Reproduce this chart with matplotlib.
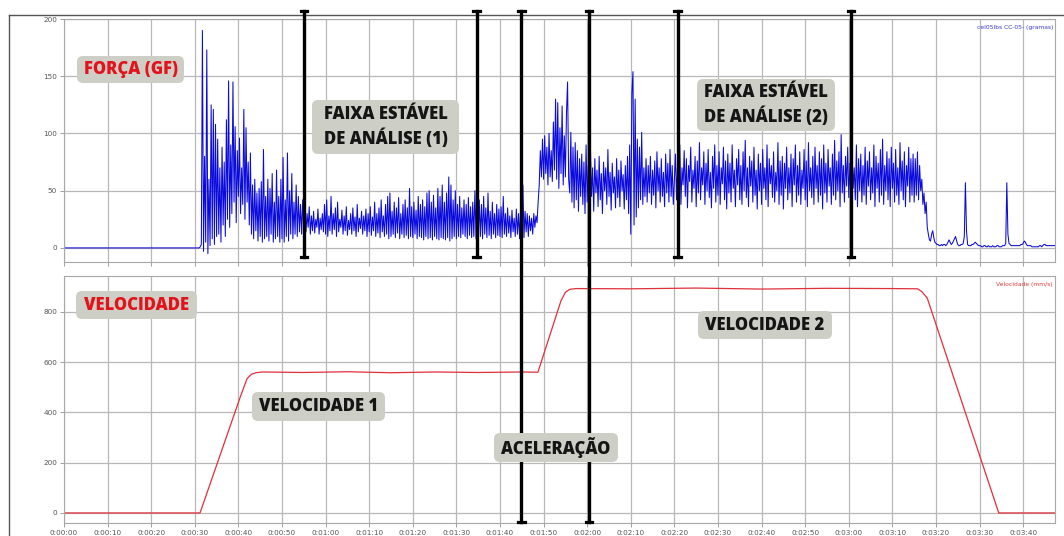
import numpy as np
import matplotlib
matplotlib.use('Agg')
import matplotlib.pyplot as plt
from matplotlib.patches import FancyBboxPatch
from matplotlib.lines import Line2D
import matplotlib.transforms as mtransforms

# ---------------- data ----------------
force_dt = 0.25
force_00 = [0, 0, 0, 0, 0, 0, 0, 0]  # 28.0 .. 29.75
force_30 = [0, 0, 0, 0, 0, 1, 3, 190, -3, 80,
            5, 173, -5, 60, 2, 125, 8, 121, 3, 108,
            10, 95, 12, 70, 5, 88, 20, 75, 10, 112,
            25, 146, 18, 90, 30, 145, 40, 106, 22, 85]
force_40 = [45, 96, 30, 70, 38, 121, 25, 105, 40, 75,
            20, 83, 12, 55, 8, 60, 15, 48, 6, 52,
            10, 58, 5, 86, 8, 45, 10, 60, 6, 52,
            12, 65, 5, 40, 8, 68, 10, 45, 5, 60]
force_50 = [8, 79, 5, 42, 10, 83, 6, 50, 12, 65,
            8, 40, 12, 55, 10, 45, 14, 38, 12, 42,
            15, 35, 14, 30, 18, 36, 12, 28, 15, 32,
            13, 25, 18, 34, 12, 26, 16, 30, 14, 38]
force_60 = [12, 42, 10, 28, 15, 45, 12, 30, 16, 35,
            10, 40, 14, 25, 18, 33, 12, 28, 15, 36,
            11, 24, 16, 30, 12, 35, 15, 27, 10, 38,
            14, 26, 17, 32, 12, 28, 15, 34, 10, 30]
force_70 = [14, 36, 11, 27, 15, 40, 10, 30, 13, 35,
            9, 42, 14, 28, 10, 38, 12, 45, 8, 48,
            10, 32, 12, 40, 9, 35, 13, 44, 8, 30,
            12, 38, 9, 42, 11, 35, 8, 52, 10, 36]
force_80 = [9, 40, 12, 33, 8, 45, 10, 38, 9, 42,
            7, 36, 10, 48, 8, 50, 9, 40, 7, 46,
            10, 35, 8, 52, 7, 45, 9, 55, 8, 40,
            7, 48, 9, 62, 6, 55, 8, 42, 10, 50]
force_90 = [8, 38, 10, 45, 9, 35, 12, 42, 10, 38,
            8, 44, 11, 36, 9, 40, 10, 50, 8, 64,
            6, 42, 10, 38, 8, 45, 12, 35, 9, 48,
            11, 32, 8, 40, 12, 30, 9, 38, 11, 34]
force_100 = [10, 36, 9, 45, 12, 30, 10, 35, 13, 28,
             9, 33, 14, 26, 10, 34, 12, 30, 8, 38,
             10, 55, 9, 32, 14, 30, 10, 28, 15, 26,
             12, 30, 18, 28, 22, 40, 55, 85, 62, 95]
force_110 = [60, 98, 65, 88, 55, 100, 62, 85, 58, 110,
             68, 130, 60, 127, 52, 105, 65, 124, 55, 98,
             62, 118, 145, 60, 48, 101, 40, 88, 35, 92,
             42, 85, 32, 78, 45, 82, 38, 75, 30, 90]
force_120 = [40, 72, 35, 86, 45, 70, 32, 78, 48, 68,
             36, 80, 42, 65, 30, 75, 50, 70, 38, 86,
             45, 66, 33, 74, 48, 62, 35, 78, 44, 68,
             36, 76, 50, 64, 34, 72, 42, 80, 30, 90]
force_130 = [12, 135, 154, 20, 130, 27, 95, 35, 88, 42,
             101, 38, 70, 45, 78, 40, 72, 48, 80, 38,
             68, 46, 76, 35, 84, 50, 70, 40, 78, 45,
             66, 36, 82, 48, 74, 40, 86, 45, 72, 38]
force_140 = [60, 82, 42, 75, 50, 90, 38, 70, 55, 85,
             45, 78, 35, 72, 58, 88, 40, 68, 52, 80,
             36, 76, 48, 92, 42, 70, 55, 84, 38, 74,
             50, 86, 44, 66, 35, 80, 52, 90, 40, 72]
force_150 = [46, 84, 38, 70, 56, 88, 42, 76, 34, 82,
             48, 74, 40, 90, 52, 68, 36, 78, 55, 86,
             42, 72, 38, 84, 50, 94, 44, 70, 36, 80,
             54, 76, 40, 88, 46, 68, 34, 82, 50, 74]
force_160 = [38, 86, 52, 70, 42, 90, 36, 78, 56, 72,
             44, 84, 40, 66, 50, 92, 38, 76, 46, 80,
             34, 74, 52, 88, 42, 70, 48, 82, 36, 78,
             55, 90, 40, 72, 46, 84, 38, 68, 52, 86]
force_170 = [42, 76, 36, 92, 50, 70, 44, 80, 38, 88,
             52, 72, 40, 84, 46, 78, 34, 90, 48, 74,
             40, 86, 54, 70, 38, 82, 46, 94, 42, 76,
             50, 84, 36, 99, 48, 72, 40, 80, 54, 88]
force_180 = [44, 74, 38, 86, 52, 70, 42, 90, 36, 78,
             50, 82, 40, 72, 46, 88, 38, 76, 54, 84,
             42, 70, 48, 90, 36, 80, 52, 74, 40, 86,
             46, 95, 38, 72, 50, 84, 42, 78, 36, 88]
force_190 = [52, 74, 40, 86, 46, 70, 38, 92, 50, 76,
             42, 84, 36, 72, 54, 88, 40, 78, 46, 82,
             40, 78, 46, 84, 42, 72, 50, 60, 38, 48,
             30, 40, 18, 12, 7, 6, 12, 15, 9, 5]
force_200 = [4, 3, 3, 2, 2, 3, 2, 3, 3, 2,
             3, 5, 7, 5, 3, 4, 6, 8, 10, 6,
             3, 2, 2, 3, 3, 4, 10, 57, 15, 3,
             2, 2, 2, 3, 3, 4, 5, 4, 3, 2]
force_210 = [2, 2, 1, 1, 2, 2, 1, 1, 2, 1,
             1, 1, 2, 1, 1, 1, 2, 2, 1, 1,
             1, 2, 2, 2, 4, 57, 12, 4, 3, 2,
             2, 2, 2, 2, 2, 2, 2, 2, 3, 3]
force_220 = [4, 6, 5, 3, 2, 2, 2, 2, 1, 1,
             1, 1, 1, 1, 1, 2, 2, 1, 2, 3,
             3, 2, 2, 2, 2, 2, 2, 2, 2, 2,
             2, 2]
force_starts = [28.0, 30.0, 40.0, 50.0, 60.0, 70.0, 80.0, 90.0, 100.0, 110.0, 120.0,
                130.0, 140.0, 150.0, 160.0, 170.0, 180.0, 190.0, 200.0, 210.0, 220.0]
force_lists = [force_00, force_30, force_40, force_50, force_60, force_70, force_80,
               force_90, force_100, force_110, force_120, force_130, force_140,
               force_150, force_160, force_170, force_180, force_190, force_200,
               force_210, force_220]

vel_time = [0, 31.2, 40.5, 42.0, 43.0, 44.0, 45.5, 55, 65, 75, 85, 95, 105, 108.7,
            114.0, 115.0, 116.0, 117.5, 130, 145, 160, 175, 190, 195.8, 196.8, 198.0,
            214.4, 227.3]
vel_value = [0, 0, 465, 535, 552, 558, 561, 559, 562, 558, 561, 559, 561, 560,
             845, 878, 890, 893, 892, 895, 891, 894, 893, 892, 880, 855, 0, 0]

x_ticks = list(range(0, 230, 10))
x_labels = ['0:%02d:%02d' % (s // 60, s % 60) for s in x_ticks]
force_ticks = [0, 50, 100, 150, 200]
vel_ticks = [0, 200, 400, 600, 800]
marker_times = [55.05, 94.7, 104.9, 120.4, 140.8, 180.5]
marker_long = [False, False, True, True, False, False]

# ---------------- build the figure ----------------
W, H = 1064, 536
fig = plt.figure(figsize=(W / 100, H / 100), dpi=100)


def fx(px):
    return px / W


def fy(py):
    return 1 - py / H


ax1 = fig.add_axes([fx(64), fy(262), fx(1055) - fx(64), fy(19) - fy(262)])
ax2 = fig.add_axes([fx(64), fy(523), fx(1055) - fx(64), fy(276) - fy(523)])

ft = [0.0]
fv = [0.0]
for st, vals in zip(force_starts, force_lists):
    ft.extend(st + force_dt * np.arange(len(vals)))
    fv.extend(vals)

ax1.plot(ft, fv, color='#0a0adc', lw=0.75)
ax2.plot(vel_time, vel_value, color='#e0303a', lw=0.9)

ax1.set_ylim(-12.3, 200)
ax2.set_ylim(-40, 943)
for ax, yt in ((ax1, force_ticks), (ax2, vel_ticks)):
    ax.set_xlim(0, 227.3)
    ax.set_xticks(x_ticks)
    ax.set_yticks(yt)
    ax.set_yticklabels([str(v) for v in yt])
    ax.grid(True, color='#b8b8b8', lw=0.9)
    ax.set_axisbelow(True)
    for sp in ax.spines.values():
        sp.set_color('#a8a8a8')
        sp.set_linewidth(0.8)
    ax.tick_params(axis='both', length=3, width=0.7, color='#a0a0a0',
                   labelsize=5.2, labelcolor='#555555', pad=2)
ax1.set_xticklabels([])
ax2.set_xticklabels(x_labels)

ax1.text(0.998, 0.975, 'cel05lbs CC-05- (gramas)', transform=ax1.transAxes,
         ha='right', va='top', fontsize=4.3, color='#3a3ad0')
ax2.text(0.998, 0.975, 'Velocidade (mm/s)', transform=ax2.transAxes,
         ha='right', va='top', fontsize=4.3, color='#e03a3a')

# outer frame of the screenshot
fig.add_artist(Line2D([fx(9), fx(9)], [fy(15), 0], transform=fig.transFigure,
                      color='#555555', lw=1.0))
fig.add_artist(Line2D([fx(9), 1], [fy(15), fy(15)], transform=fig.transFigure,
                      color='#555555', lw=1.0))

# black marker lines with end caps
trans = mtransforms.blended_transform_factory(ax1.transData, fig.transFigure)
cap = 3.4 / 4.3605
for t, long_ in zip(marker_times, marker_long):
    y0 = fy(11)
    y1 = fy(522) if long_ else fy(257)
    fig.add_artist(Line2D([t, t], [y0, y1], transform=trans, color='black',
                          lw=2.4, zorder=5))
    for yy in (y0, y1):
        fig.add_artist(Line2D([t - cap, t + cap], [yy, yy], transform=trans,
                              color='black', lw=2.3, zorder=5))

# annotation boxes
boxes = [
    ('FORÇA (GF)', 77, 56, 184, 83, '#e3121b'),
    ('FAIXA ESTÁVEL\nDE ANÁLISE (1)', 312, 100, 459, 154, '#151515'),
    ('FAIXA ESTÁVEL\nDE ANÁLISE (2)', 697, 79, 835, 131, '#151515'),
    ('VELOCIDADE', 76, 291, 197, 319, '#e3121b'),
    ('VELOCIDADE 1', 252, 392, 385, 421, '#151515'),
    ('ACELERAÇÃO', 494, 433, 618, 462, '#151515'),
    ('VELOCIDADE 2', 698, 311, 832, 339, '#151515'),
]
for txt, x0, y0, x1, y1, col in boxes:
    r = 6
    patch = FancyBboxPatch((fx(x0 + r), fy(y1 - r)), fx(x1 - x0 - 2 * r),
                           fy(y0 + r) - fy(y1 - r),
                           boxstyle='round,pad=%f,rounding_size=%f' % (r / W, r / W),
                           transform=fig.transFigure, fc='#cdcfc6', ec='none',
                           zorder=10, mutation_aspect=W / H)
    fig.add_artist(patch)
    fig.text(fx((x0 + x1) / 2), fy((y0 + y1) / 2), txt, ha='center', va='center',
             fontsize=12, fontweight='heavy', family=['Open Sans', 'DejaVu Sans'],
             color=col, linespacing=1.3, zorder=11)

fig.savefig('out.png', dpi=100)
